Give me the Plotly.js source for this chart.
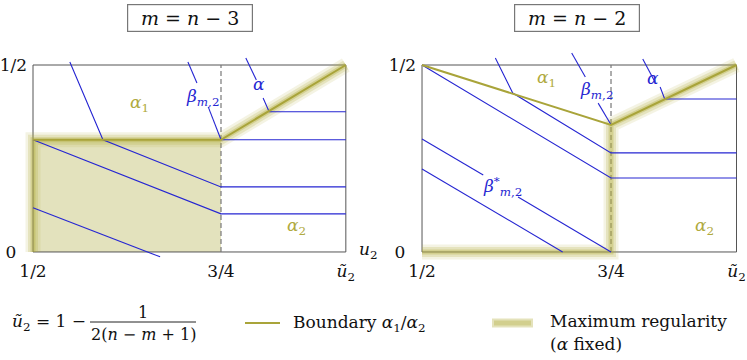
<!DOCTYPE html>
<html>
<head>
<meta charset="utf-8">
<script src="https://cdn.plot.ly/plotly-3.0.1.min.js"></script>
<style>
  html, body { margin: 0; padding: 0; background: #fff; }
  #plot { width: 747px; height: 360px; }
</style>
</head>
<body>
<div id="plot"></div>
<script>
// position of u~2 on the horizontal axis
const U2T = 0.916;

const xTickVals = [0.5, 0.75, U2T];
const xTickText = ['1/2', '3/4', '<i>ũ</i><sub>2</sub>'];
const yTickVals = [0, 0.5];
const yTickText = ['0&nbsp;&nbsp;', '1/2'];

// frame of each panel and the dashed line at 3/4
const boxX = [0.5, U2T, U2T, 0.5, 0.5];
const boxY = [0, 0, 0.5, 0.5, 0];
const dashX = [0.75, 0.75];
const dashY = [0, 0.5];

// ---- m = n - 3 (left)
const shadeX = [0.5, 0.75, 0.75, 0.5, 0.5];
const shadeY = [0, 0, 0.3, 0.3, 0];
const maxRegLX = [0.5, 0.5, 0.75, U2T];
const maxRegLY = [0, 0.3, 0.3, 0.5];
const boundLX = [0.5, 0.75, U2T];
const boundLY = [0.3, 0.3, 0.5];

const l1X = [0.549, 0.593, 0.75, U2T];
const l1Y = [0.508, 0.3, 0.174, 0.174];
const l2X = [0.5, 0.75, U2T];
const l2Y = [0.3, 0.102, 0.102];
const l3X = [0.5, 0.669];
const l3Y = [0.118, -0.013];
const lBetaX = [0.706, 0.718, null, 0.733, 0.75];
const lBetaY = [0.508, 0.452, null, 0.388, 0.3];
const lAlphaX = [0.783, 0.797, null, 0.806, 0.814, U2T];
const lAlphaY = [0.519, 0.46, null, 0.412, 0.375, 0.375];
const l4X = [0.75, U2T];
const l4Y = [0.3, 0.3];

// ---- m = n - 2 (right)
const maxRegRX = [0.5, 0.75, 0.75, U2T];
const maxRegRY = [0, 0, 0.34, 0.5];
const boundRX = [0.5, 0.75, U2T];
const boundRY = [0.5, 0.34, 0.5];

const r1X = [0.5, 0.75, U2T];
const r1Y = [0.5, 0.198, 0.198];
const r2X = [0.597, 0.62, 0.75, U2T];
const r2Y = [0.519, 0.425, 0.265, 0.265];
const r3X = [0.5, 0.581, null, 0.627, 0.75];
const r3Y = [0.302, 0.206, null, 0.147, 0];
const r4X = [0.5, 0.686];
const r4Y = [0.222, 0];
const rBetaX = [0.698, 0.716, null, 0.733, 0.75];
const rBetaY = [0.532, 0.468, null, 0.398, 0.34];
const rAlphaX = [0.792, 0.808, null, 0.815, 0.821, U2T];
const rAlphaY = [0.516, 0.455, null, 0.441, 0.409, 0.409];

const BLUE = '#2626d2';
const OLIVE = '#a9a43a';
const OLIVE_TXT = '#b0aa40';
const GLOW = 'rgb(178,172,60)';
const W = 747, H = 360;

function line(x, y, ax, color, width, dash, opacity) {
    return {
        x: x, y: y, type: 'scatter', mode: 'lines',
        xaxis: 'x' + ax, yaxis: 'y' + ax,
        line: { color: color, width: width, dash: dash || 'solid' },
        opacity: opacity === undefined ? 1 : opacity,
        hoverinfo: 'skip', connectgaps: false
    };
}

function glow(x, y, ax) {
    return [
        line(x, y, ax, GLOW, 15, 'solid', 0.14),
        line(x, y, ax, GLOW, 10, 'solid', 0.22),
        line(x, y, ax, GLOW, 5, 'solid', 0.35)
    ];
}

var data = [];
// left
data.push({ x: shadeX, y: shadeY, type: 'scatter', mode: 'lines', fill: 'toself',
    fillcolor: '#e3e2bd', line: { width: 0 }, hoverinfo: 'skip', xaxis: 'x', yaxis: 'y' });
data.push(line(boxX, boxY, '', '#555', 1));
data.push(line(dashX, dashY, '', '#777', 1.2, '5px,3px'));
data = data.concat(glow(maxRegLX, maxRegLY, ''));
[[l1X, l1Y], [l2X, l2Y], [l3X, l3Y], [lBetaX, lBetaY], [lAlphaX, lAlphaY], [l4X, l4Y]].forEach(function (p) {
    data.push(line(p[0], p[1], '', BLUE, 1.1));
});
data.push(line(boundLX, boundLY, '', OLIVE, 2));
// right
data.push(line(boxX, boxY, '2', '#555', 1));
data.push(line(dashX, dashY, '2', '#777', 1.2, '5px,3px'));
data = data.concat(glow(maxRegRX, maxRegRY, '2'));
[[r1X, r1Y], [r2X, r2Y], [r3X, r3Y], [r4X, r4Y], [rBetaX, rBetaY], [rAlphaX, rAlphaY]].forEach(function (p) {
    data.push(line(p[0], p[1], '2', BLUE, 1.1));
});
data.push(line(boundRX, boundRY, '2', OLIVE, 2));

const FONT = 'DejaVu Serif';

function xAxis(domain) {
    return {
        domain: domain, range: [0.48, 0.925], anchor: 'free', position: (H - 252) / H,
        showgrid: false, zeroline: false, showline: false, ticks: '',
        tickmode: 'array', tickvals: xTickVals, ticktext: xTickText,
        tickfont: { family: FONT, size: 17, color: '#111' }, ticklabelstandoff: 7
    };
}
function yAxis(pos) {
    return {
        domain: [(H - 263.2) / H, (H - 46.3) / H], range: [-0.03, 0.55],
        anchor: 'free', position: pos,
        showgrid: false, zeroline: false, showline: false, ticks: '',
        tickmode: 'array', tickvals: yTickVals, ticktext: yTickText,
        tickfont: { family: FONT, size: 17, color: '#111' }, ticklabelstandoff: 6
    };
}

function txt(text, x, y, ref, color, size, anchor) {
    return {
        text: text, x: x, y: y, xref: ref ? 'x' + ref : 'x', yref: ref ? 'y' + ref : 'y',
        showarrow: false, font: { family: FONT, size: size || 17, color: color },
        xanchor: anchor || 'center', yanchor: 'middle'
    };
}
function ptxt(text, px, py, size, anchor) {
    return {
        text: text, x: px / W, y: (H - py) / H, xref: 'paper', yref: 'paper',
        showarrow: false, font: { family: FONT, size: size || 17, color: '#111' },
        xanchor: anchor || 'center', yanchor: 'middle'
    };
}

const a1 = '<i>α</i><sub>1</sub>';
const a2 = '<i>α</i><sub>2</sub>';
const beta = '<i>β</i><sub><i>m</i>,2</sub>';

var annotations = [
    txt(a1, 0.642, 0.398, '', OLIVE_TXT),
    txt(beta, 0.725, 0.414, '', BLUE),
    txt('<i>α</i>', 0.80, 0.449, '', BLUE),
    txt(a2, 0.851, 0.067, '', OLIVE_TXT),
    txt(a1, 0.664, 0.465, '2', OLIVE_TXT),
    txt(beta, 0.731, 0.433, '2', BLUE),
    txt('<i>α</i>', 0.806, 0.465, '2', BLUE),
    txt('<i>β</i><sup>*</sup><sub><i>m</i>,2</sub>', 0.606, 0.174, '2', BLUE),
    txt(a2, 0.874, 0.067, '2', OLIVE_TXT),
    ptxt('<i>u</i><sub>2</sub>', 368, 250),
    ptxt('<i>ũ</i><sub>2</sub> = 1 −', 10, 322, 17, 'left'),
    ptxt('1', 143, 312, 16),
    ptxt('2(<i>n</i> − <i>m</i> + 1)', 143, 334, 16),
    ptxt('Boundary ' + a1 + '/' + a2, 291, 323, 17, 'left'),
    ptxt('Maximum regularity', 548, 321, 17, 'left'),
    ptxt('(<i>α</i> fixed)', 548, 344, 17, 'left')
];
[['<i>m</i> = <i>n</i> − 3', 190], ['<i>m</i> = <i>n</i> − 2', 577]].forEach(function (t) {
    var a = ptxt(t[0], t[1], 18, 19);
    a.bordercolor = '#777';
    a.borderwidth = 1.2;
    a.borderpad = 2;
    a.bgcolor = '#fff';
    a.width = 120;
    a.height = 22;
    annotations.push(a);
});

const shapes = [
    // fraction bar
    { type: 'line', xref: 'paper', yref: 'paper', x0: 90 / W, x1: 196 / W,
      y0: (H - 322) / H, y1: (H - 322) / H, line: { color: '#222', width: 1 } },
    // legend keys
    { type: 'line', xref: 'paper', yref: 'paper', x0: 245 / W, x1: 280 / W,
      y0: (H - 323) / H, y1: (H - 323) / H, line: { color: OLIVE, width: 2 } },
    { type: 'line', xref: 'paper', yref: 'paper', x0: 492 / W, x1: 533 / W,
      y0: (H - 323) / H, y1: (H - 323) / H, line: { color: 'rgba(178,172,60,0.35)', width: 9 } },
    { type: 'line', xref: 'paper', yref: 'paper', x0: 494 / W, x1: 531 / W,
      y0: (H - 323) / H, y1: (H - 323) / H, line: { color: 'rgba(178,172,60,0.35)', width: 5 } }
];

const layout = {
    width: W, height: H,
    margin: { l: 0, r: 0, t: 0, b: 0 },
    paper_bgcolor: '#fff', plot_bgcolor: 'rgba(0,0,0,0)',
    showlegend: false,
    font: { family: FONT, size: 17, color: '#111' },
    xaxis: xAxis([17.96 / W, 352.6 / W]),
    yaxis: yAxis(33 / W),
    xaxis2: xAxis([406.9 / W, 743.3 / W]),
    yaxis2: yAxis(422 / W),
    annotations: annotations,
    shapes: shapes
};

Plotly.newPlot('plot', data, layout, { staticPlot: true });
</script>
</body>
</html>
